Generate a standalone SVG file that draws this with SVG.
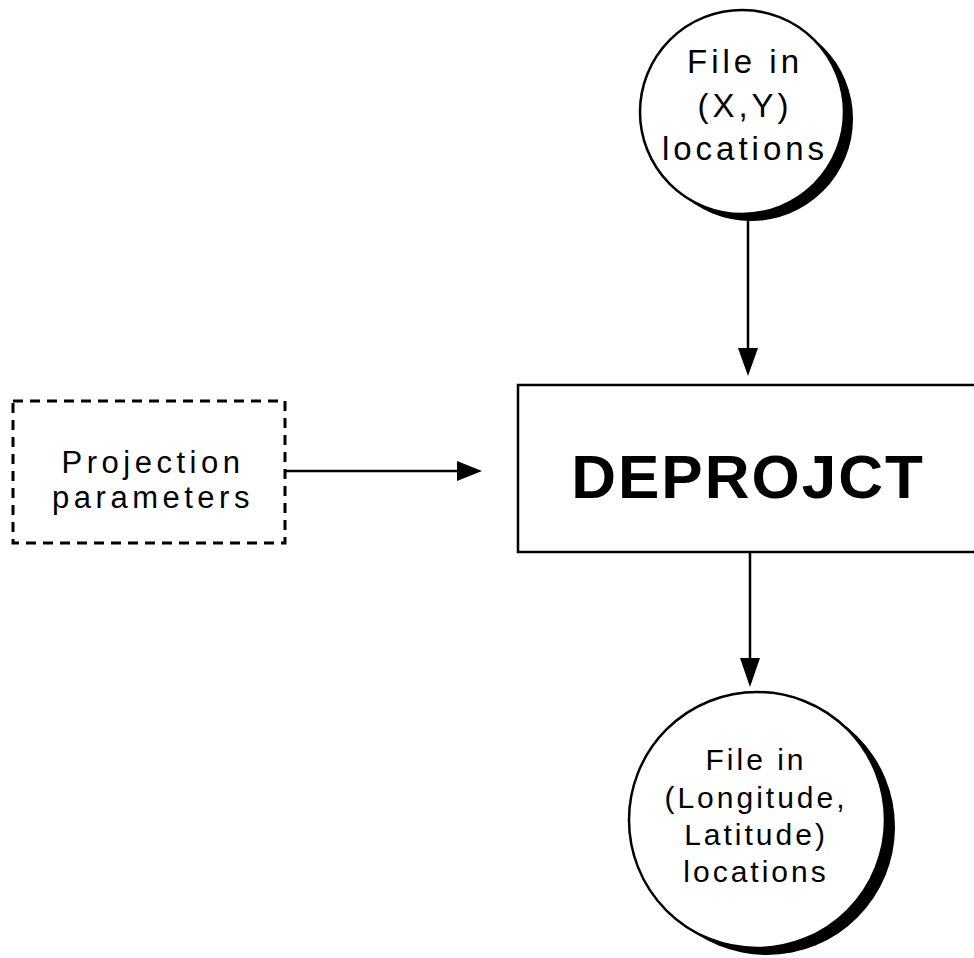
<svg xmlns="http://www.w3.org/2000/svg" width="974" height="958" viewBox="0 0 974 958">
<style>
.bg{fill:#fff}
.t{font-family:"Liberation Sans",Arial,sans-serif;font-size:30px;letter-spacing:3px;fill:#000;text-anchor:middle}
.t1{font-family:"Liberation Sans",Arial,sans-serif;font-size:33px;letter-spacing:4px;fill:#000;text-anchor:middle}
.t2{font-family:"Liberation Sans",Arial,sans-serif;font-size:31px;letter-spacing:4.5px;fill:#000;text-anchor:middle}
.big{font-family:"Liberation Sans",Arial,sans-serif;font-size:62px;font-weight:bold;letter-spacing:2px;fill:#000;text-anchor:middle}
.ln{stroke:#000;stroke-width:2.5;fill:none}
.circ{fill:#fff;stroke:#000;stroke-width:2.5}
.sh{fill:#000}
.box{fill:#fff;stroke:#000;stroke-width:2.5}
.dash{fill:#fff;stroke:#000;stroke-width:3;stroke-dasharray:10 7}
.ah{fill:#000}
</style>
<rect class="bg" x="0" y="0" width="974" height="958"/>
<g id="connectors">
<line class="ln" x1="748" y1="218" x2="748" y2="352"/>
<polygon class="ah" points="738,348 758,348 748,376"/>
<line class="ln" x1="285" y1="471" x2="462" y2="471"/>
<polygon class="ah" points="457,461 457,481 482,471"/>
<line class="ln" x1="750" y1="552" x2="750" y2="662"/>
<polygon class="ah" points="740,658 760,658 750,687"/>
</g>
<g id="node-xy">
<circle class="sh" cx="751" cy="119" r="102"/>
<circle class="circ" cx="742" cy="112" r="102"/>
<text class="t1" x="745" y="73">File in</text>
<text class="t1" x="745" y="117">(X,Y)</text>
<text class="t1" x="745" y="160">locations</text>
</g>
<g id="node-deprojct">
<rect class="box" x="518" y="385" width="470" height="167"/>
<text class="big" x="748" y="498">DEPROJCT</text>
</g>
<g id="node-params">
<rect class="dash" x="13" y="401" width="272" height="142"/>
<text class="t2" x="153" y="473">Projection</text>
<text class="t2" x="153" y="508">parameters</text>
</g>
<g id="node-lonlat">
<circle class="sh" cx="767" cy="827" r="128"/>
<circle class="circ" cx="757" cy="820" r="128"/>
<text class="t" x="756" y="770">File in</text>
<text class="t" x="756" y="808">(Longitude,</text>
<text class="t" x="756" y="845">Latitude)</text>
<text class="t" x="756" y="882">locations</text>
</g>
</svg>
